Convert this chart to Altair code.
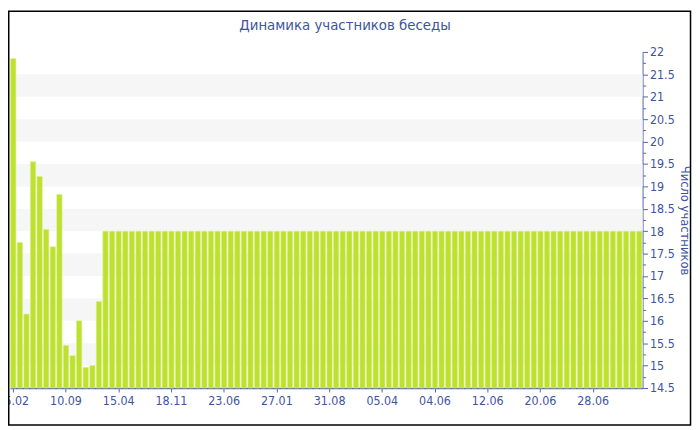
import altair as alt
import pandas as pd

# Bar values (participants count), one per day/period
values = [21.85, 17.75, 16.15, 19.55, 19.22, 18.04, 17.65, 18.82, 15.45, 15.22,
          16.0, 14.96, 15.0, 16.43] + [18.0] * 82
# Shown x tick labels (every 8th bar)
tick_labels = ["05.02", "10.09", "15.04", "18.11", "23.06", "27.01",
               "31.08", "05.04", "04.06", "12.06", "20.06", "28.06"]
tick_step = 8
# Alternating horizontal band limits
band_lo = [15, 16, 17, 18, 19, 20, 21]
band_hi = [15.5, 16.5, 17.5, 18.5, 19.5, 20.5, 21.5]
# Y axis ticks (major every 0.5, minor every 0.25)
y_ticks = [14.5, 14.75, 15, 15.25, 15.5, 15.75, 16, 16.25, 16.5, 16.75, 17,
           17.25, 17.5, 17.75, 18, 18.25, 18.5, 18.75, 19, 19.25, 19.5, 19.75,
           20, 20.25, 20.5, 20.75, 21, 21.25, 21.5, 21.75, 22]
title_text = ["Динамика участников беседы"]

FONT = "DejaVu Sans Condensed, DejaVu Sans, Liberation Sans"
BLUE = "#3d54a0"
AXIS_BLUE = "#5566a8"
W, H = 640, 340

bars_df = pd.DataFrame({"idx": list(range(len(values))), "value": values})
bands_df = pd.DataFrame({"lo": band_lo, "hi": band_hi})
frame_df = pd.DataFrame({"k": [0]})
title_df = pd.DataFrame({"t": title_text})

label_js = "[" + ",".join("'%s'" % t for t in tick_labels) + "]"

y_scale = alt.Scale(domain=[14.5, 22], zero=False, nice=False, clamp=True)
y_axis = alt.Axis(
    orient="right",
    title="Число участников",
    values=y_ticks,
    labelExpr="datum.value % 0.5 === 0 ? format(datum.value, '~g') : ''",
    tickSize=alt.condition("datum.value % 0.5 === 0", alt.value(5), alt.value(3)),
    tickColor=AXIS_BLUE,
    domainColor=AXIS_BLUE,
    labelColor=BLUE,
    labelFont=FONT,
    labelFontSize=12.5,
    labelPadding=2,
    titleColor=BLUE,
    titleFont=FONT,
    titleFontSize=13,
    titleFontWeight="normal",
    titlePadding=3,
    grid=False,
)

bands = alt.Chart(bands_df).mark_rect(color="#f6f6f6").encode(
    x=alt.value(0),
    x2=alt.value(W),
    y=alt.Y("lo:Q", scale=y_scale, axis=y_axis),
    y2="hi:Q",
)

bars = alt.Chart(bars_df).mark_bar(color="#bde12e", stroke="#dcee8c", strokeWidth=0.6).encode(
    x=alt.X(
        "idx:O",
        scale=alt.Scale(paddingInner=0.2, paddingOuter=0.1),
        axis=alt.Axis(
            title=None,
            values=[i * tick_step for i in range(len(tick_labels))],
            labelExpr=label_js + "[datum.value / %d]" % tick_step,
            labelAngle=0,
            labelColor=BLUE,
            labelFont=FONT,
            labelFontSize=12.5,
            labelPadding=3,
            tickSize=4,
            tickColor=AXIS_BLUE,
            domainColor=AXIS_BLUE,
            domainWidth=1.5,
        ),
    ),
    y=alt.Y("value:Q", scale=y_scale, axis=y_axis),
)

frame = alt.Chart(frame_df).mark_rect(filled=False, stroke="black", strokeWidth=1.5).encode(
    x=alt.value(-1.25),
    x2=alt.value(W + 48.5),
    y=alt.value(-41.25),
    y2=alt.value(H + 37.5),
)

title = alt.Chart(title_df).mark_text(
    font=FONT, fontSize=15, color=BLUE, align="center", baseline="middle"
).encode(
    x=alt.value(339),
    y=alt.value(-27),
    text="t:N",
)

chart = alt.layer(bands, bars, frame, title).properties(
    width=W,
    height=H,
    background="white",
    padding={"left": 2, "top": 42, "right": 50, "bottom": 40},
    autosize=alt.AutoSizeParams(type="none"),
).configure_view(stroke="transparent", strokeWidth=0)

chart.save("out.html", embed_options={"renderer": "svg", "actions": False})
